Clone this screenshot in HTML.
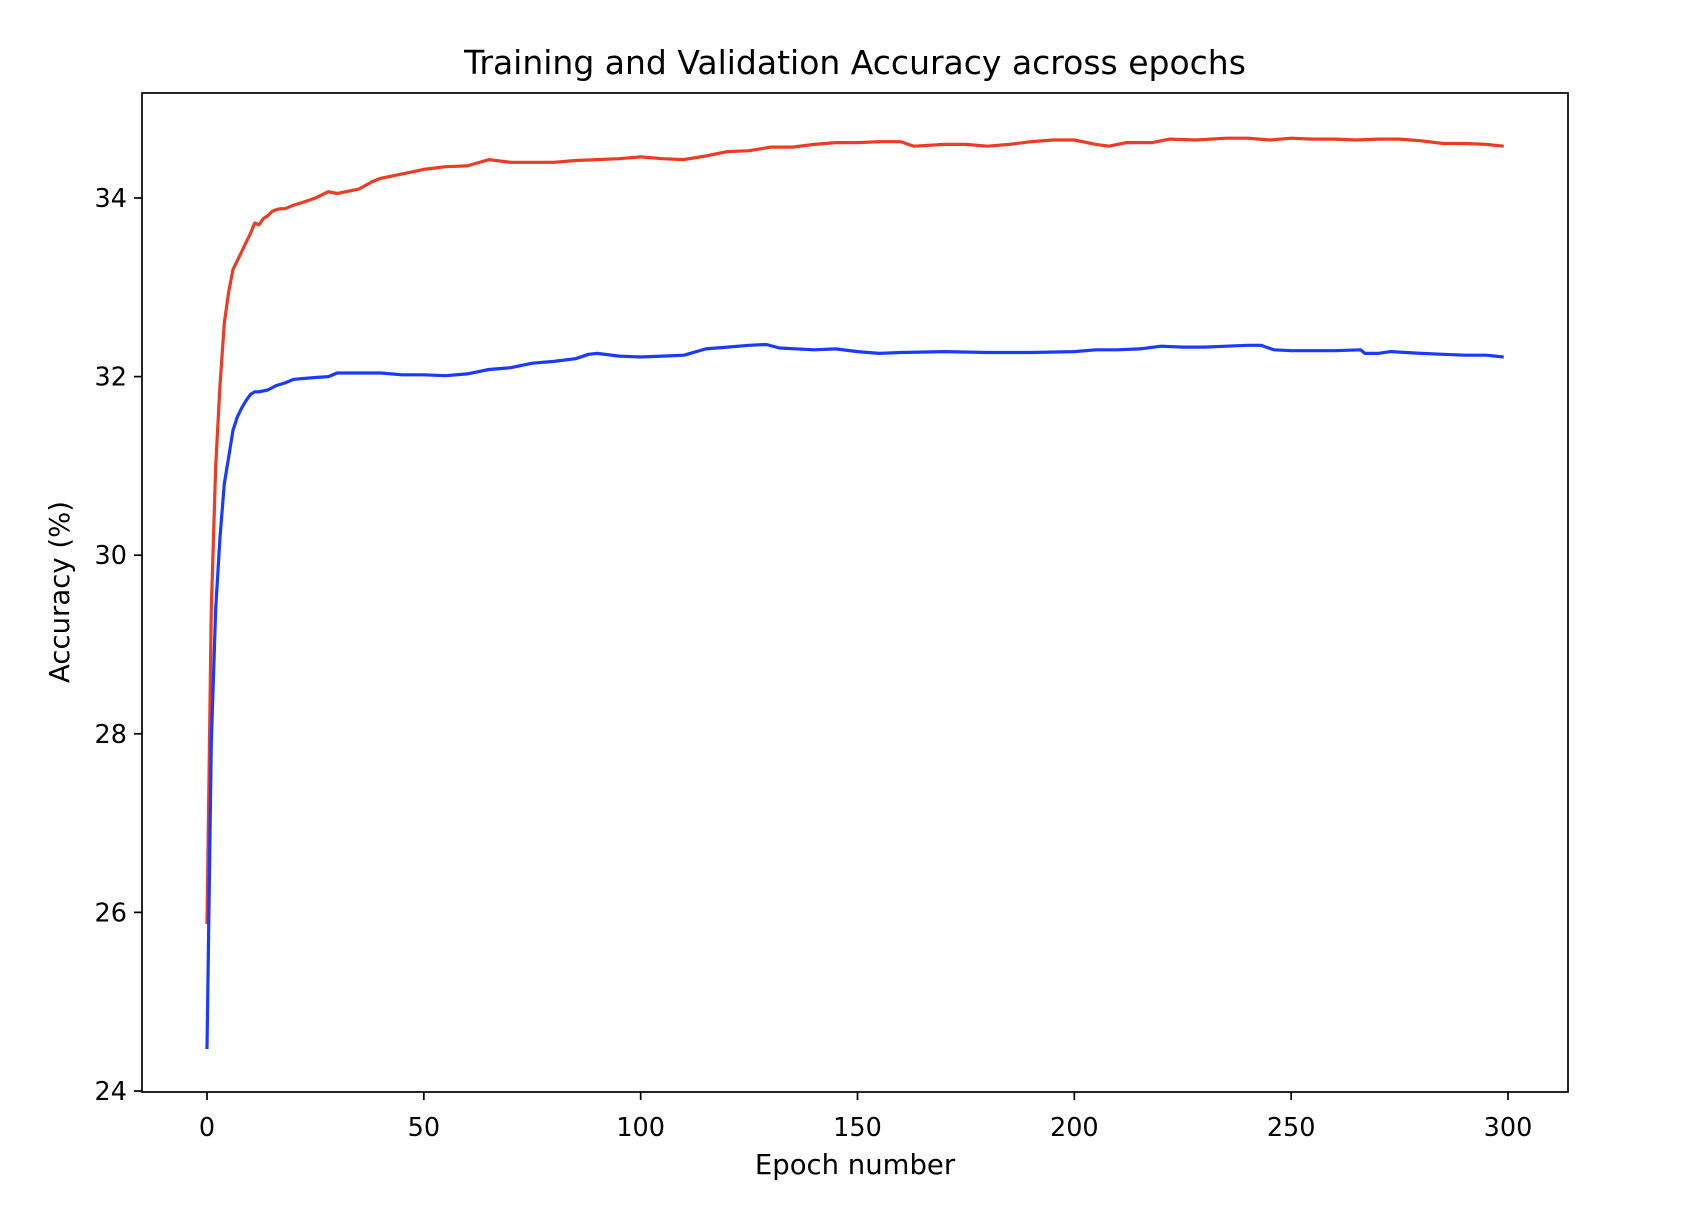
<!DOCTYPE html>
<html><head><meta charset="utf-8"><style>
html,body{margin:0;padding:0;background:#fff;}
svg{display:block;font-family:"DejaVu Sans","Liberation Sans",sans-serif;}
</style></head><body>
<svg id="chart" width="1688" height="1210" viewBox="0 0 1688 1210" xmlns="http://www.w3.org/2000/svg">
<rect width="1688" height="1210" fill="#fff"/>
<text x="855" y="74" font-size="33" text-anchor="middle" fill="#000">Training and Validation Accuracy across epochs</text>
<g id="plot"></g>
<text x="855" y="1174" font-size="27.5" text-anchor="middle" fill="#000">Epoch number</text>
<text transform="translate(69,592) rotate(-90)" font-size="27.5" text-anchor="middle" fill="#000">Accuracy (%)</text>
</svg>
<script>
const trainEpochs=[0,1,2,3,4,5,6,7,8,9,10,11,12,13,14,15,16,17,18,20,22,25,28,30,35,38,40,45,50,55,60,65,70,75,80,85,90,95,100,105,110,115,120,125,130,135,140,145,150,155,160,163,170,175,180,185,190,195,200,205,208,212,218,222,228,235,240,245,250,255,260,265,270,275,280,285,290,295,299];
const trainAcc=[25.87,29.4,31.0,31.9,32.6,32.95,33.2,33.3,33.4,33.5,33.6,33.72,33.7,33.77,33.8,33.85,33.87,33.88,33.88,33.92,33.95,34.0,34.07,34.05,34.1,34.18,34.22,34.27,34.32,34.35,34.36,34.43,34.4,34.4,34.4,34.42,34.43,34.44,34.46,34.44,34.43,34.47,34.52,34.53,34.57,34.57,34.6,34.62,34.62,34.63,34.63,34.58,34.6,34.6,34.58,34.6,34.63,34.65,34.65,34.6,34.58,34.62,34.62,34.66,34.65,34.67,34.67,34.65,34.67,34.66,34.66,34.65,34.66,34.66,34.64,34.61,34.61,34.6,34.58];
const valEpochs=[0,1,2,3,4,5,6,7,8,9,10,11,12,14,16,18,20,25,28,30,35,40,45,50,55,60,65,70,75,80,85,88,90,95,100,105,110,115,120,125,129,132,140,145,150,155,160,170,180,190,200,205,210,215,220,225,230,235,240,243,246,250,255,260,266,267,270,273,280,285,290,295,299];
const valAcc=[24.47,27.9,29.4,30.2,30.8,31.1,31.4,31.55,31.65,31.73,31.8,31.83,31.83,31.85,31.9,31.93,31.97,31.99,32.0,32.04,32.04,32.04,32.02,32.02,32.01,32.03,32.08,32.1,32.15,32.17,32.2,32.25,32.26,32.23,32.22,32.23,32.24,32.31,32.33,32.35,32.36,32.32,32.3,32.31,32.28,32.26,32.27,32.28,32.27,32.27,32.28,32.3,32.3,32.31,32.34,32.33,32.33,32.34,32.35,32.35,32.3,32.29,32.29,32.29,32.3,32.26,32.26,32.28,32.26,32.25,32.24,32.24,32.22];
const xTicks=[0,50,100,150,200,250,300];
const yTicks=[24,26,28,30,32,34];

const L=142,R=1568,T=93,B=1092;
const x=e=>207+(e-0)*(1508-207)/300;
const y=v=>1091-(v-24)*(1091-198)/10;
const NS='http://www.w3.org/2000/svg';
const g=document.getElementById('plot');
function mk(tag,attrs){const el=document.createElementNS(NS,tag);for(const k in attrs)el.setAttribute(k,attrs[k]);g.appendChild(el);return el;}

function line(ex,vals,color,name){
  const d=ex.map((e,i)=>(i?'L':'M')+x(e).toFixed(1)+' '+y(vals[i]).toFixed(1)).join(' ');
  const p=mk('path',{d:d,fill:'none',stroke:color,'stroke-width':3.2,'stroke-linejoin':'round'});
  
  
}
line(trainEpochs,trainAcc,'#ee3b24','training-accuracy-line');
line(valEpochs,valAcc,'#1a3bff','validation-accuracy-line');

const frame=mk('rect',{x:L,y:T,width:R-L,height:B-T,fill:'none',stroke:'#000','stroke-width':1.7});



xTicks.forEach(t=>{
  const tk=mk('line',{x1:x(t),x2:x(t),y1:B,y2:B+8,stroke:'#000','stroke-width':1.7});
  
  
  const lb=mk('text',{x:x(t),y:1136,'font-size':25.5,'text-anchor':'middle',fill:'#000'});
  lb.textContent=t;
  
  
});
yTicks.forEach(t=>{
  const tk=mk('line',{x1:L-8,x2:L,y1:y(t),y2:y(t),stroke:'#000','stroke-width':1.7});
  
  
  const lb=mk('text',{x:127,y:y(t)+9,'font-size':25.5,'text-anchor':'end',fill:'#000'});
  lb.textContent=t;
  
  
});
</script>
</body></html>
